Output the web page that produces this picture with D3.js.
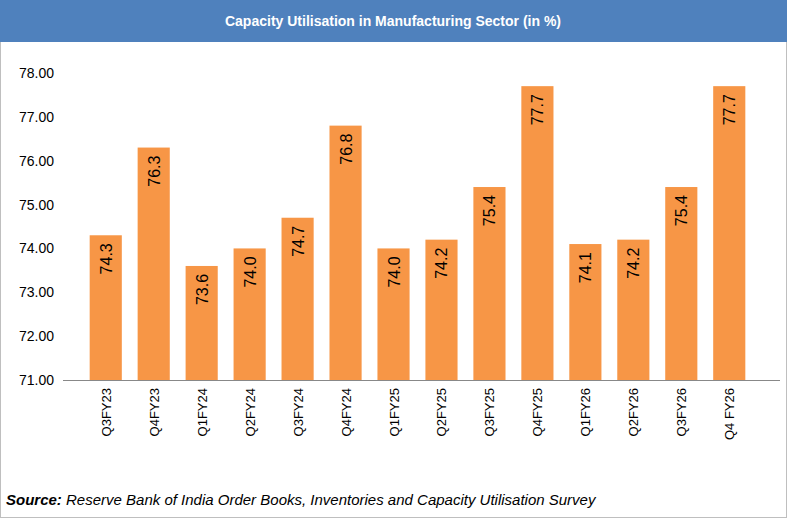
<!DOCTYPE html><html><head><meta charset="utf-8">
<script src="https://cdn.jsdelivr.net/npm/d3@7"></script>
<style>body{margin:0;background:#fff}svg{font-family:"Liberation Sans",Arial,sans-serif}</style></head><body>
<svg id="c" width="787" height="518"></svg>
<script>
const categories=["Q3FY23","Q4FY23","Q1FY24","Q2FY24","Q3FY24","Q4FY24","Q1FY25","Q2FY25","Q3FY25","Q4FY25","Q1FY26","Q2FY26","Q3FY26","Q4 FY26"];
const values=[74.3,76.3,73.6,74.0,74.7,76.8,74.0,74.2,75.4,77.7,74.1,74.2,75.4,77.7];
const yTicks=[71,72,73,74,75,76,77,78];
const title="Capacity Utilisation in Manufacturing Sector (in %)";
const svg=d3.select("#c");
svg.append("rect").attr("x",0.5).attr("y",0.5).attr("width",786).attr("height",517).attr("fill","#fff").attr("stroke","#bfbfbf");
svg.append("rect").attr("x",0).attr("y",0).attr("width",787).attr("height",42).attr("fill","#4F81BD");
svg.append("text").attr("x",393).attr("y",26).attr("text-anchor","middle").attr("fill","#fff").attr("font-weight","bold").attr("font-size",14).text(title);
const x=d3.scaleBand().domain(categories).range([82,753]).paddingInner(0.33).paddingOuter(0.16);
const y=d3.scaleLinear().domain([71,78]).range([380,73]);
svg.append("g").selectAll("rect").data(values).join("rect")
 .attr("x",(d,i)=>x(categories[i])).attr("width",x.bandwidth())
 .attr("y",d=>y(d)).attr("height",d=>380-y(d)).attr("fill","#F79646");
svg.append("g").selectAll("text").data(values).join("text")
 .attr("transform",(d,i)=>`translate(${x(categories[i])+x.bandwidth()/2+6},${y(d)+8}) rotate(-90)`)
 .attr("text-anchor","end").attr("font-size",16).attr("fill","#000").text(d=>d.toFixed(1));
svg.append("line").attr("x1",63).attr("x2",780).attr("y1",380.5).attr("y2",380.5).attr("stroke","#888");
svg.append("g").selectAll("text").data(yTicks).join("text")
 .attr("x",54).attr("y",d=>y(d)+5).attr("text-anchor","end").attr("font-size",14).attr("fill","#000").text(d=>d.toFixed(2));
svg.append("g").selectAll("text").data(categories).join("text")
 .attr("transform",d=>`translate(${x(d)+x.bandwidth()/2+5},388) rotate(-90)`)
 .attr("text-anchor","end").attr("font-size",13).attr("fill","#000").text(d=>d);
const s=svg.append("text").attr("x",6).attr("y",505).attr("font-size",15).attr("font-style","italic");
s.append("tspan").attr("font-weight","bold").text("Source:");
s.append("tspan").text(" Reserve Bank of India Order Books, Inventories and Capacity Utilisation Survey");
</script></body></html>
